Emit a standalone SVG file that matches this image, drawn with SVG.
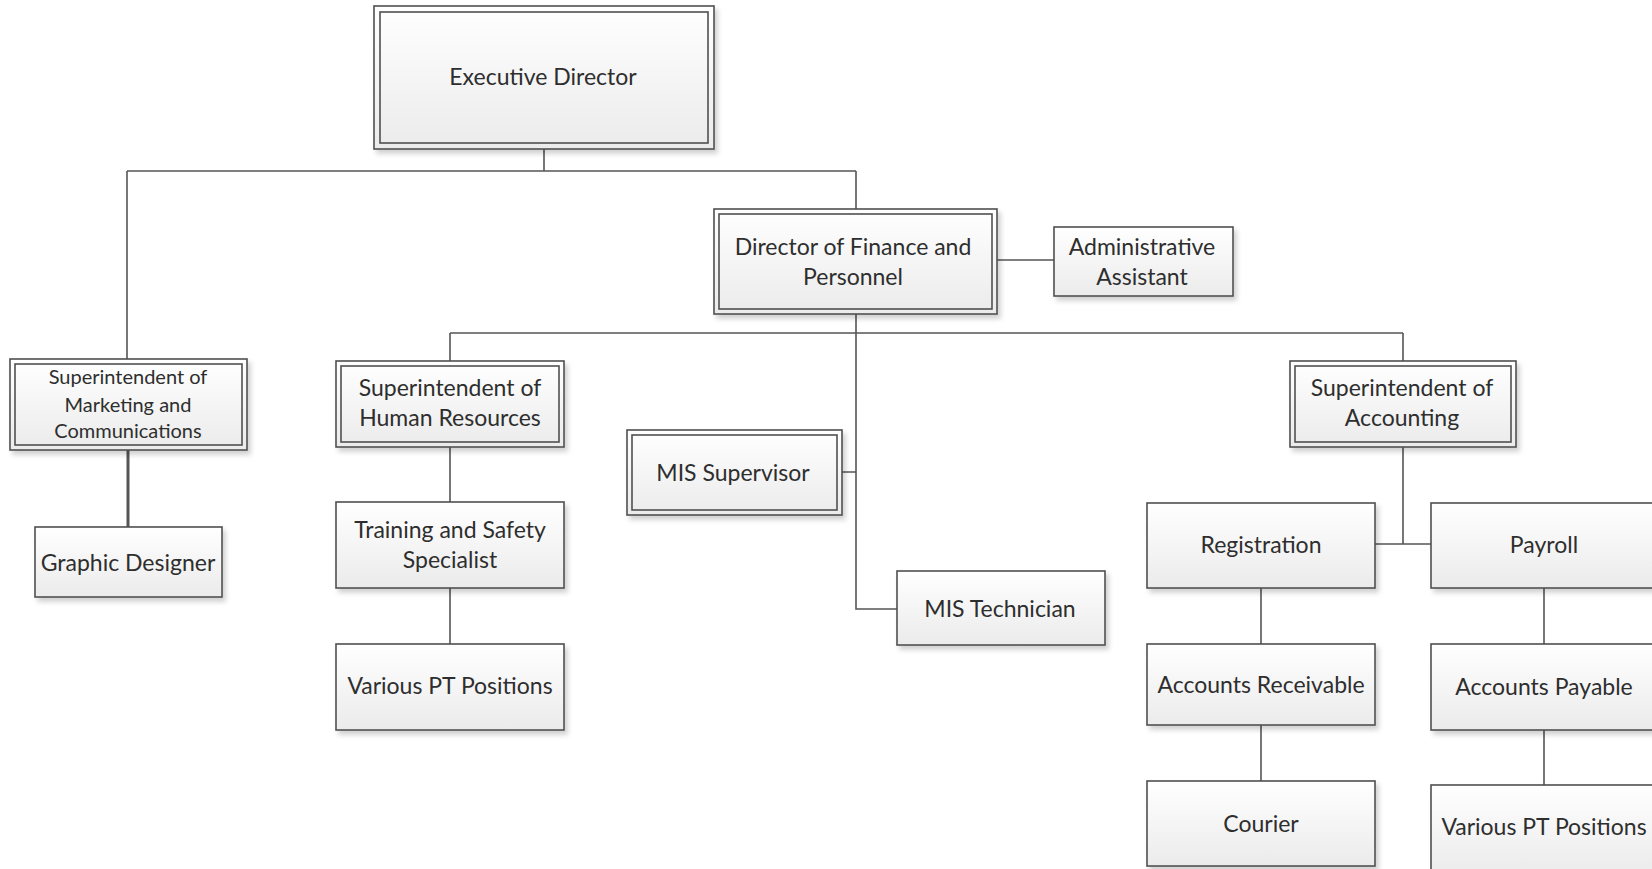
<svg xmlns="http://www.w3.org/2000/svg" width="1652" height="869" viewBox="0 0 1652 869">
<defs>
<linearGradient id="g" x1="0" y1="0" x2="0" y2="1">
<stop offset="0" stop-color="#ffffff"/>
<stop offset="1" stop-color="#ebebeb"/>
</linearGradient>
<filter id="sh" x="-10%" y="-10%" width="130%" height="140%">
<feDropShadow dx="3" dy="4" stdDeviation="2.5" flood-color="#000" flood-opacity="0.18"/>
</filter>
</defs>
<style>
.box{fill:url(#g);stroke:#505050;stroke-width:1.6;filter:url(#sh)}
.inner{fill:none;stroke:#505050;stroke-width:1.6}
.t{font-family:Lato,"Open Sans",sans-serif;font-size:23px;fill:#2e2e2e;text-anchor:middle;dominant-baseline:central}
.s{font-size:20px}
.c{fill:none;stroke:#555;stroke-width:1.6}
</style>
<rect width="1652" height="869" fill="#fff"/>
<g id="connectors">
<path class="c" d="M544 149V171M127 171H856M127 171V359M856 171V209"/>
<path class="c" d="M997 260H1054"/>
<path class="c" d="M856 314V609H897M450 333H1403M450 333V361M1403 333V361M842 472H856"/>
<path class="c" d="M128 450V527" style="stroke-width:3"/>
<path class="c" d="M450 447V502M450 588V644"/>
<path class="c" d="M1403 447V544M1375 544H1431"/>
<path class="c" d="M1261 588V644M1261 725V781M1544 588V644M1544 730V785"/>
</g>
<g id="exec">
<rect class="box" x="374" y="6" width="340" height="143"/>
<rect class="inner" x="380" y="12" width="328" height="131"/>
<text class="t" x="543" y="76">Executive Director</text>
</g>
<g id="director">
<rect class="box" x="714" y="209" width="283" height="105"/>
<rect class="inner" x="719" y="214" width="273" height="95"/>
<text class="t" x="853" y="245.5">Director of Finance and</text>
<text class="t" x="853" y="276">Personnel</text>
</g>
<g id="admin">
<rect class="box" x="1054" y="227" width="179" height="69"/>
<text class="t" x="1142" y="245.5">Administrative</text>
<text class="t" x="1142" y="276">Assistant</text>
</g>
<g id="marketing">
<rect class="box" x="10" y="359" width="237" height="91"/>
<rect class="inner" x="15" y="364" width="227" height="81"/>
<text class="t s" x="128" y="376">Superintendent of</text>
<text class="t s" x="128" y="403.5">Marketing and</text>
<text class="t s" x="128" y="430">Communications</text>
</g>
<g id="graphic">
<rect class="box" x="35" y="527" width="187" height="70"/>
<text class="t" x="128" y="561.5">Graphic Designer</text>
</g>
<g id="hr">
<rect class="box" x="336" y="361" width="228" height="86"/>
<rect class="inner" x="341" y="366" width="218" height="76"/>
<text class="t" x="450" y="387">Superintendent of</text>
<text class="t" x="450" y="417">Human Resources</text>
</g>
<g id="training">
<rect class="box" x="336" y="502" width="228" height="86"/>
<text class="t" x="450" y="529">Training and Safety</text>
<text class="t" x="450" y="558.5">Specialist</text>
</g>
<g id="pt-left">
<rect class="box" x="336" y="644" width="228" height="86"/>
<text class="t" x="450" y="685">Various PT Positions</text>
</g>
<g id="mis-supervisor">
<rect class="box" x="627" y="430" width="215" height="85"/>
<rect class="inner" x="632" y="435" width="205" height="75"/>
<text class="t" x="733" y="472">MIS Supervisor</text>
</g>
<g id="mis-tech">
<rect class="box" x="897" y="571" width="208" height="74"/>
<text class="t" x="1000" y="608">MIS Technician</text>
</g>
<g id="accounting">
<rect class="box" x="1290" y="361" width="226" height="86"/>
<rect class="inner" x="1295" y="366" width="216" height="76"/>
<text class="t" x="1402" y="387">Superintendent of</text>
<text class="t" x="1402" y="417">Accounting</text>
</g>
<g id="registration">
<rect class="box" x="1147" y="503" width="228" height="85"/>
<text class="t" x="1261" y="543.6">Registration</text>
</g>
<g id="payroll">
<rect class="box" x="1431" y="503" width="228" height="85"/>
<text class="t" x="1544" y="543.6">Payroll</text>
</g>
<g id="receivable">
<rect class="box" x="1147" y="644" width="228" height="81"/>
<text class="t" x="1261" y="684">Accounts Receivable</text>
</g>
<g id="payable">
<rect class="box" x="1431" y="644" width="228" height="86"/>
<text class="t" x="1544" y="686">Accounts Payable</text>
</g>
<g id="courier">
<rect class="box" x="1147" y="781" width="228" height="85"/>
<text class="t" x="1261" y="823">Courier</text>
</g>
<g id="pt-right">
<rect class="box" x="1431" y="785" width="228" height="90"/>
<text class="t" x="1544" y="826">Various PT Positions</text>
</g>
</svg>
